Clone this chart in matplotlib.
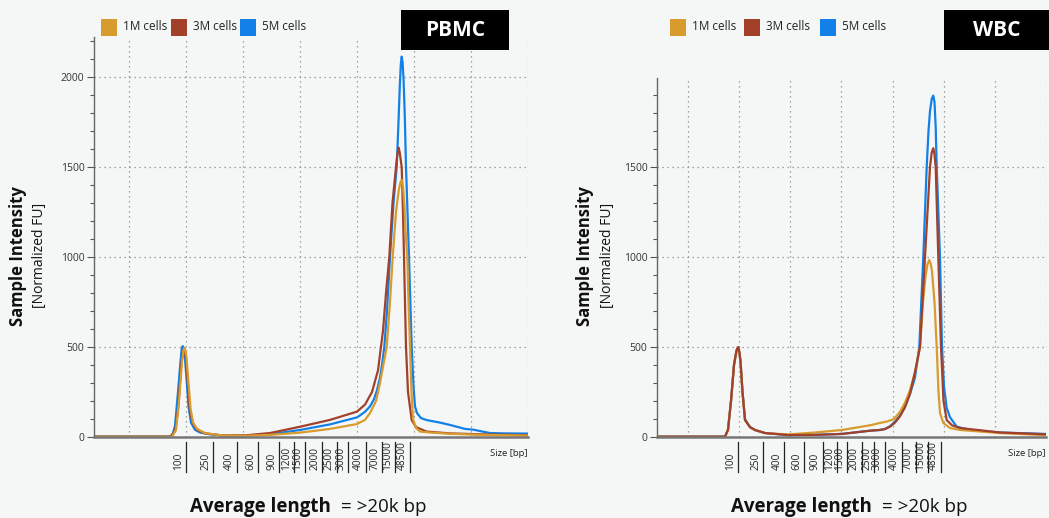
import numpy as np
import matplotlib
matplotlib.use("Agg")
import matplotlib.pyplot as plt
from matplotlib import transforms
from matplotlib.patches import Rectangle

plt.rcParams['font.family'] = ['Open Sans', 'DejaVu Sans']

W, H = 1049, 518
BG = '#f5f7f7'
C1, C3, C5 = '#D89B2E', '#A3402A', '#1380E8'

series_labels = ['1M cells', '3M cells', '5M cells']

# ---- PBMC (x = migration position, y = normalized FU) ----
pbmc_5m_x = [0, 71, 78, 81, 84, 86.5, 87.7, 88.7, 89.6, 90.5, 92.5, 94.5, 97, 101, 106, 116, 131, 151, 176, 206,
             236, 263, 266, 271, 276, 280, 283, 286, 288.5, 290.3, 293, 296, 299.5, 302.7, 304.5, 305.8, 306.8,
             307.7, 308.6, 309.6, 310.8, 312, 315, 317.7, 319.5, 321, 323, 327, 332.7, 346, 356, 371, 379, 386,
             396, 411, 434]
pbmc_5m_y = [3, 3, 5, 60, 250, 420, 490, 505, 495, 470, 330, 170, 80, 40, 25, 15, 8, 8, 15, 39,
             70, 109, 120, 140, 170, 210, 260, 330, 420, 500, 700, 1000, 1300, 1500, 1750, 1950, 2070,
             2113, 2080, 1980, 1780, 1500, 1000, 500, 280, 170, 133, 105, 94, 80, 67, 45, 41, 33,
             22, 20, 19]
pbmc_3m_x = [0, 76, 81, 84, 87, 88.7, 90, 91, 92, 94, 96, 99, 103, 111, 126, 151, 176, 206, 236, 263, 271, 278,
             284, 289, 292, 295.3, 298.5, 302, 303.3, 304.7, 305.7, 307.7, 309, 310, 311, 312, 314, 317.7, 322,
             332.7, 356, 386, 434]
pbmc_3m_y = [2, 2, 30, 150, 380, 470, 490, 470, 430, 280, 140, 75, 40, 20, 10, 9, 22, 57, 95, 141, 180, 250,
             370, 590, 800, 1000, 1300, 1500, 1570, 1607, 1580, 1500, 1250, 1000, 750, 500, 250, 94, 55,
             30, 20, 15, 10]
pbmc_1m_x = [0, 78, 82, 85, 88, 89.5, 90.5, 91.5, 92.5, 94.5, 96.5, 99, 103, 111, 126, 151, 176, 206, 236, 263,
             271, 276, 282, 286, 290, 292.7, 296, 298.7, 302, 305, 306.5, 307.7, 309, 310.3, 311.5, 313.3, 314.5,
             316, 317.5, 319, 322, 326, 336, 356, 386, 434]
pbmc_1m_y = [2, 2, 40, 200, 420, 480, 495, 480, 440, 300, 160, 80, 45, 22, 10, 7, 12, 24, 45, 72,
             95, 133, 200, 300, 420, 500, 750, 1000, 1250, 1380, 1415, 1428, 1390, 1300, 1150, 1000, 750,
             500, 250, 100, 50, 30, 25, 18, 12, 8]

# ---- WBC ----
wbc_5m_x = [0, 68, 71, 74, 77, 79.5, 80.5, 81.3, 82.3, 83.5, 85.5, 88, 93, 98, 108, 131, 158, 185, 213, 223,
            228, 233, 238, 243, 248, 253, 258, 262.3, 266.3, 269.7, 271.5, 273, 274.8, 276.3, 277.5, 278.7,
            279.7, 283, 285, 287, 289.7, 293, 299.7, 313, 343, 389]
wbc_5m_y = [2, 2, 40, 200, 400, 480, 492, 495, 470, 420, 250, 100, 55, 38, 22, 10, 12, 17, 35, 39,
            45, 60, 85, 120, 170, 240, 330, 500, 1000, 1500, 1700, 1810, 1880, 1896, 1860, 1720,
            1500, 1000, 500, 280, 161, 110, 57, 39, 25, 17]
wbc_3m_x = [0, 68, 71, 74, 77, 79.5, 80.5, 81.3, 82.3, 83.5, 85.5, 88, 93, 98, 108, 131, 158, 185, 213, 223,
            228, 233, 238, 243, 248, 253, 258, 263, 268, 273, 274.7, 276.3, 277.5, 278.7, 281.3, 284, 286.5,
            289.7, 295, 303, 343, 389]
wbc_3m_y = [2, 2, 40, 200, 400, 480, 495, 500, 475, 420, 250, 94, 55, 39, 22, 11, 12, 17, 35, 39,
            44, 57, 80, 115, 165, 240, 360, 500, 1000, 1500, 1580, 1604, 1570, 1500, 1000, 500, 200,
            94, 65, 50, 25, 15]
wbc_1m_x = [0, 68, 71, 74, 77, 79.5, 80.5, 81.3, 82.3, 83.5, 85.5, 88, 93, 98, 108, 131, 158, 185, 213, 223,
            230, 237, 243, 248, 253, 258, 263, 266, 268.7, 270.5, 272.3, 273.8, 275, 277.5, 279.7, 281.5, 283,
            286.3, 293, 303, 343, 389]
wbc_1m_y = [2, 2, 40, 200, 400, 480, 492, 495, 470, 420, 250, 94, 55, 39, 22, 14, 25, 39, 65, 78,
            86, 100, 140, 190, 260, 360, 500, 750, 900, 960, 983, 960, 920, 750, 500, 250, 133,
            78, 50, 39, 22, 10]

# ladder (size markers) and their migration positions
ladder_sizes = [100, 250, 400, 600, 900, 1200, 1500, 2000, 2500, 3000, 4000, 7000, 15000, 48500]
pbmc_ladder_pos = [91.7, 119.3, 142.7, 164.3, 185.3, 200, 211, 228.3, 242.7, 254.3, 271.7, 288.3, 301, 316]
wbc_ladder_pos = [81.3, 106.3, 127.3, 147.3, 165.7, 179.7, 189.7, 204.7, 217.3, 228, 244.7, 259, 271.3, 283.7]


def fx(x):
    return x / W


def fy(y):
    return 1 - y / H


fig = plt.figure(figsize=(W / 100, H / 100), dpi=100, facecolor=BG)
renderer = fig.canvas.get_renderer()


def draw_panel(left_px, right_px, top_px, xmax, ymax, grid_x0, grid_dx, curves, ladder_pos,
               title, box, legend_x, avg_x, ylab_x):
    ax = fig.add_axes([fx(left_px), fy(437), fx(right_px - left_px), (437 - top_px) / H])
    ax.set_facecolor(BG)
    for xs, ys, c in curves:
        ax.plot(xs, ys, color=c, lw=1.6, solid_joinstyle='round')
    ax.set_xlim(0, xmax)
    ax.set_ylim(0, ymax)
    ax.set_xticks(np.arange(grid_x0, xmax + 1, grid_dx))
    ax.tick_params(axis='x', length=0, labelbottom=False)
    ax.set_yticks(np.arange(0, ymax, 500))
    ax.set_yticks(np.arange(0, ymax, 100), minor=True)
    ax.tick_params(axis='y', which='major', length=5, width=0.8, color='#555', labelsize=7.5,
                   labelcolor='#333', pad=2)
    ax.tick_params(axis='y', which='minor', length=3, width=0.8, color='#555')
    ax.grid(True, linestyle=(0, (1, 3)), color='#888', lw=0.9)
    for s in ['top', 'right']:
        ax.spines[s].set_visible(False)
    ax.spines['left'].set_color('#666')
    ax.spines['left'].set_linewidth(1.0)
    ax.spines['bottom'].set_color('#777')
    ax.spines['bottom'].set_linewidth(1.8)

    trans = transforms.blended_transform_factory(ax.transData, fig.transFigure)
    tlab = transforms.offset_copy(trans, fig=fig, x=-2, y=0, units='dots')
    for p, s in zip(ladder_pos, ladder_sizes):
        ax.plot([p, p], [fy(442), fy(472)], transform=trans, clip_on=False, color='#222', lw=0.9)
        ax.text(p, fy(470), str(s), transform=tlab, rotation=90, ha='right', va='bottom',
                fontsize=7.3, color='#222')
    fig.text(fx(right_px), fy(453), 'Size [bp]', ha='right', va='center', fontsize=6.8, color='#222')

    # y labels
    fig.text(fx(ylab_x), fy(256), 'Sample Intensity', rotation=90, ha='center', va='center',
             fontsize=12, fontweight='bold', color='#111')
    fig.text(fx(ylab_x + 22), fy(255), '[Normalized FU]', rotation=90, ha='center', va='center',
             fontsize=10, color='#111')

    # legend
    for lx, lab, c in zip(legend_x, series_labels, [C1, C3, C5]):
        fig.add_artist(Rectangle((fx(lx), fy(35.5)), fx(16), 16.5 / H, transform=fig.transFigure,
                                 facecolor=c, edgecolor='none'))
        fig.text(fx(lx + 22), fy(27), lab, ha='left', va='center', fontsize=8.5, color='#222')

    # title box
    bx0, bx1 = box
    fig.add_artist(Rectangle((fx(bx0), fy(50)), fx(bx1 - bx0), 40 / H, transform=fig.transFigure,
                             facecolor='black', edgecolor='none'))
    fig.text(fx((bx0 + min(bx1, 1059)) / 2), fy(31), title, ha='center', va='center',
             fontsize=15, fontweight='bold', color='white')

    # average length
    t = fig.text(fx(avg_x), fy(507), 'Average length', ha='left', va='center', fontsize=13.5,
                 fontweight='bold', color='#111')
    x_end = t.get_window_extent(renderer=renderer).x1
    fig.text((x_end + 10) / W, fy(507), '= >20k bp', ha='left', va='center', fontsize=13.5,
             color='#111')
    return ax


draw_panel(94, 528, 37, 434, 2222, 35, 57,
           [(pbmc_5m_x, pbmc_5m_y, C5), (pbmc_3m_x, pbmc_3m_y, C3), (pbmc_1m_x, pbmc_1m_y, C1)],
           pbmc_ladder_pos, 'PBMC', (401, 509), [101, 171, 240], 190, 18)

draw_panel(657, 1046, 78, 389, 1994, 31.3, 51.05,
           [(wbc_5m_x, wbc_5m_y, C5), (wbc_1m_x, wbc_1m_y, C1), (wbc_3m_x, wbc_3m_y, C3)],
           wbc_ladder_pos, 'WBC', (944, 1049), [670, 744, 820], 731, 585)

fig.savefig('out.png', dpi=100, facecolor=BG)
